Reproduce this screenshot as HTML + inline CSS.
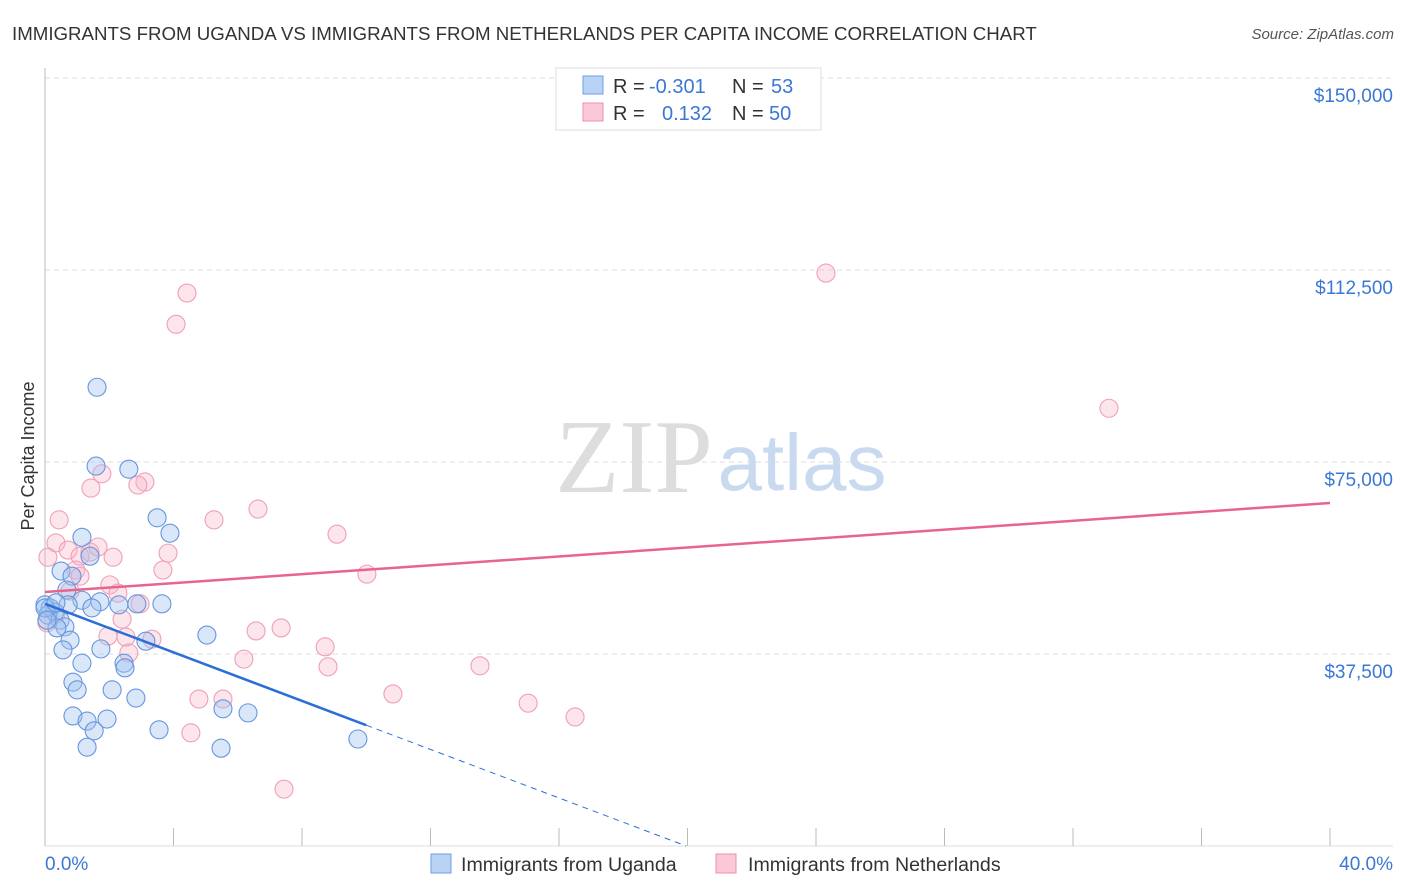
<!DOCTYPE html>
<html><head><meta charset="utf-8">
<style>
body{margin:0;background:#fff;font-family:"Liberation Sans",sans-serif;}
svg{display:block}
</style></head>
<body>
<svg id="chart" width="1406" height="892" xmlns="http://www.w3.org/2000/svg">
<text x="12" y="40" font-size="18.7" fill="#333">IMMIGRANTS FROM UGANDA VS IMMIGRANTS FROM NETHERLANDS PER CAPITA INCOME CORRELATION CHART</text>
<text x="1394" y="39" font-size="15" fill="#555" font-style="italic" text-anchor="end">Source: ZipAtlas.com</text>
<text x="0" y="0" transform="translate(34,456) rotate(-90)" font-size="18" fill="#333" text-anchor="middle">Per Capita Income</text>
<g>
<text x="634" y="492" font-size="105" font-family="Liberation Serif,serif" fill="#ddd" text-anchor="middle">ZIP</text>
<text x="802" y="490" font-size="80" fill="#c9daf0" text-anchor="middle">atlas</text>
</g>
<g id="grid"></g>
<g id="axes"></g>
<g id="marks"></g>
<g>
<rect x="556" y="68" width="265" height="62" fill="#fff" stroke="#ddd"/>
<rect x="583" y="76" width="20" height="18" fill="#b9d3f5" stroke="#6f9ee6"/>
<rect x="583" y="103" width="20" height="18" fill="#fac8d7" stroke="#ee8fab"/>
<text x="613" y="93" font-size="20" fill="#333">R =</text>
<text x="649" y="93" font-size="20" fill="#3a78d4">-0.301</text>
<text x="732" y="93" font-size="20" fill="#333">N =</text>
<text x="771" y="93" font-size="20" fill="#3a78d4">53</text>
<text x="613" y="120" font-size="20" fill="#333">R =</text>
<text x="662" y="120" font-size="20" fill="#3a78d4">0.132</text>
<text x="732" y="120" font-size="20" fill="#333">N =</text>
<text x="769" y="120" font-size="20" fill="#3a78d4">50</text>
</g>
<g>
<rect x="431" y="854" width="20" height="19" fill="#b9d3f5" stroke="#6f9ee6"/>
<text x="461" y="871" font-size="19.6" fill="#333">Immigrants from Uganda</text>
<rect x="716" y="854" width="20" height="19" fill="#fac8d7" stroke="#ee8fab"/>
<text x="748" y="871" font-size="19.6" fill="#333">Immigrants from Netherlands</text>
</g>
</svg>
<script>
const yTicks=[37500,75000,112500,150000];
const yTickLabels=["$37,500","$75,000","$112,500","$150,000"];
const xTicks=[0,4,8,12,16,20,24,28,32,36,40];
const xEndLabels=["0.0%","40.0%"];
const ugandaX=[1.62,1.59,2.61,3.49,3.89,1.15,0.50,0.84,1.40,0.68,1.15,1.71,3.64,2.86,2.30,0,0.16,0.31,0.09,0.47,0.62,0.37,0.78,0.56,1.74,3.14,5.04,1.15,2.46,2.49,0.87,1.00,2.09,2.83,0.87,1.31,1.93,1.53,3.55,5.54,6.32,1.31,5.48,9.74,0.72,0,0.06,1.46,0.34];
const ugandaY=[89.6,74.2,73.6,64.1,61.1,60.3,53.7,52.7,56.6,50.0,48.0,47.7,47.3,47.3,47.1,47.1,46.5,45.7,45.1,44.1,42.8,42.6,40.2,38.3,38.5,40.0,41.2,35.7,35.7,34.8,32.0,30.5,30.5,28.9,25.4,24.4,24.8,22.5,22.7,26.8,26.0,19.3,19.1,20.9,47.1,46.5,44.1,46.5,47.5];
const nethX=[24.31,4.42,4.08,33.12,1.43,1.77,3.11,2.89,0.44,5.26,6.63,9.09,0.34,0.72,1.09,2.12,3.83,1.40,0.09,0.96,1.09,3.67,10.02,2.02,2.27,0.78,2.96,0.06,2.40,1.96,2.52,3.33,6.57,7.35,8.72,6.19,2.61,8.81,13.54,4.79,5.54,10.83,15.04,16.50,4.54,7.44,0.34,1.65];
const nethY=[111.9,108.0,101.9,85.5,69.9,72.7,71.1,70.5,63.7,63.7,65.8,60.9,59.2,57.8,56.6,56.4,57.2,57.4,56.4,53.9,52.7,53.9,53.1,51.0,49.4,49.8,47.3,43.6,44.3,41.0,40.8,40.4,42.0,42.6,38.9,36.5,37.7,35.0,35.2,28.7,28.7,29.7,27.9,25.2,22.1,11.1,45.3,58.4];
const ugandaTrend=[47.3,-2.37];
const nethTrend=[49.6,0.435];

const X0=45,X1=1330,Y0=846,PX_PER_K=192/37.5;
const sx=v=>X0+(v/40)*(X1-X0);
const sy=v=>Y0-v*PX_PER_K;
const NS="http://www.w3.org/2000/svg";
function mk(tag,attrs,parent){const e=document.createElementNS(NS,tag);for(const k in attrs)e.setAttribute(k,attrs[k]);parent.appendChild(e);return e;}
const grid=document.getElementById('grid'),axes=document.getElementById('axes'),marks=document.getElementById('marks');
yTicks.forEach((t,i)=>{
  const l=mk('line',{x1:45,x2:1393,y1:sy(t/1000),y2:sy(t/1000),stroke:'#ddd','stroke-dasharray':'5,4'},grid);
  
  
  const tx=mk('text',{x:1393,y:sy(t/1000)+24,'font-size':19,fill:'#3a78d4','text-anchor':'end'},axes);
  tx.textContent=yTickLabels[i];
  
  
});
mk('line',{x1:45,x2:45,y1:68,y2:846,stroke:'#bbb'},axes);
mk('line',{x1:45,x2:1393,y1:846,y2:846,stroke:'#ddd'},axes);
xTicks.forEach(t=>{
  const l=mk('line',{x1:sx(t),x2:sx(t),y1:828,y2:846,stroke:'#bbb'},axes);
  
  
});
const xl0=mk('text',{x:45,y:870,'font-size':19,fill:'#3a78d4'},axes);xl0.textContent=xEndLabels[0];


const xl1=mk('text',{x:1393,y:870,'font-size':19,fill:'#3a78d4','text-anchor':'end'},axes);xl1.textContent=xEndLabels[1];



nethX.forEach((x,i)=>{
  const c=mk('circle',{cx:sx(x),cy:sy(nethY[i]),r:9,fill:'rgba(248,180,200,0.35)',stroke:'#ef9fb7','stroke-width':1.1},marks);
  
  
});
ugandaX.forEach((x,i)=>{
  const c=mk('circle',{cx:sx(x),cy:sy(ugandaY[i]),r:9,fill:'rgba(160,195,240,0.4)',stroke:'#6696de','stroke-width':1.1},marks);
  
  
});
const nl=mk('line',{x1:sx(0),y1:sy(nethTrend[0]),x2:sx(40),y2:sy(nethTrend[0]+40*nethTrend[1]),stroke:'#e8648e','stroke-width':2.5},marks);


const ul=mk('line',{x1:sx(0),y1:sy(ugandaTrend[0]),x2:sx(10),y2:sy(ugandaTrend[0]+10*ugandaTrend[1]),stroke:'#2b6fd6','stroke-width':2.5},marks);


const xEnd=-ugandaTrend[0]/ugandaTrend[1];
const ud=mk('line',{x1:sx(10),y1:sy(ugandaTrend[0]+10*ugandaTrend[1]),x2:sx(xEnd),y2:sy(0),stroke:'#2b6fd6','stroke-width':1,'stroke-dasharray':'6,5'},marks);


</script>
</body></html>
